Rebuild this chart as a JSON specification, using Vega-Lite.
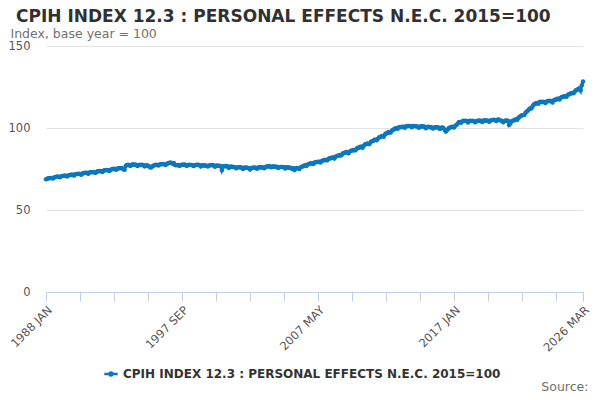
{
  "$schema": "https://vega.github.io/schema/vega-lite/v6.json",
  "width": 537,
  "height": 246,
  "autosize": {"type": "none"},
  "padding": {"left": 46, "top": 46, "right": 17, "bottom": 108},
  "title": {
    "text": "CPIH INDEX 12.3 : PERSONAL EFFECTS N.E.C. 2015=100",
    "anchor": "start",
    "frame": "group",
    "dx": -30,
    "dy": 1,
    "offset": 2,
    "font": "DejaVu Sans",
    "fontSize": 17,
    "fontWeight": "bold",
    "color": "#323132"
  },
  "data": {
    "values": [
      {"m":"1988 JAN","v":68.8},{"m":"1988 FEB","v":69.0},{"m":"1988 MAR","v":69.3},{"m":"1988 APR","v":69.3},{"m":"1988 MAY","v":69.5},{"m":"1988 JUN","v":69.5},{"m":"1988 JUL","v":69.2},{"m":"1988 AUG","v":69.8},{"m":"1988 SEP","v":70.2},{"m":"1988 OCT","v":70.3},{"m":"1988 NOV","v":70.5},{"m":"1988 DEC","v":70.2},
      {"m":"1989 JAN","v":69.9},{"m":"1989 FEB","v":70.6},{"m":"1989 MAR","v":70.8},{"m":"1989 APR","v":70.8},{"m":"1989 MAY","v":71.0},{"m":"1989 JUN","v":70.8},{"m":"1989 JUL","v":70.4},{"m":"1989 AUG","v":71.0},{"m":"1989 SEP","v":71.3},{"m":"1989 OCT","v":71.4},{"m":"1989 NOV","v":71.6},{"m":"1989 DEC","v":71.4},
      {"m":"1990 JAN","v":71.0},{"m":"1990 FEB","v":71.8},{"m":"1990 MAR","v":71.9},{"m":"1990 APR","v":71.9},{"m":"1990 MAY","v":72.1},{"m":"1990 JUN","v":72.0},{"m":"1990 JUL","v":71.5},{"m":"1990 AUG","v":72.1},{"m":"1990 SEP","v":72.5},{"m":"1990 OCT","v":72.5},{"m":"1990 NOV","v":72.7},{"m":"1990 DEC","v":72.5},
      {"m":"1991 JAN","v":72.1},{"m":"1991 FEB","v":72.9},{"m":"1991 MAR","v":73.0},{"m":"1991 APR","v":73.0},{"m":"1991 MAY","v":73.2},{"m":"1991 JUN","v":73.1},{"m":"1991 JUL","v":72.6},{"m":"1991 AUG","v":73.2},{"m":"1991 SEP","v":73.6},{"m":"1991 OCT","v":73.6},{"m":"1991 NOV","v":73.8},{"m":"1991 DEC","v":73.6},
      {"m":"1992 JAN","v":73.2},{"m":"1992 FEB","v":74.0},{"m":"1992 MAR","v":74.2},{"m":"1992 APR","v":74.2},{"m":"1992 MAY","v":74.4},{"m":"1992 JUN","v":74.2},{"m":"1992 JUL","v":73.8},{"m":"1992 AUG","v":74.4},{"m":"1992 SEP","v":74.9},{"m":"1992 OCT","v":75.0},{"m":"1992 NOV","v":75.2},{"m":"1992 DEC","v":74.9},
      {"m":"1993 JAN","v":74.5},{"m":"1993 FEB","v":75.3},{"m":"1993 MAR","v":75.5},{"m":"1993 APR","v":75.4},{"m":"1993 MAY","v":75.6},{"m":"1993 JUN","v":75.4},{"m":"1993 JUL","v":74.8},{"m":"1993 AUG","v":74.6},{"m":"1993 SEP","v":76.8},{"m":"1993 OCT","v":77.4},{"m":"1993 NOV","v":77.6},{"m":"1993 DEC","v":77.3},
      {"m":"1994 JAN","v":76.8},{"m":"1994 FEB","v":77.6},{"m":"1994 MAR","v":77.8},{"m":"1994 APR","v":77.6},{"m":"1994 MAY","v":77.7},{"m":"1994 JUN","v":77.4},{"m":"1994 JUL","v":76.8},{"m":"1994 AUG","v":77.3},{"m":"1994 SEP","v":77.6},{"m":"1994 OCT","v":77.5},{"m":"1994 NOV","v":77.6},{"m":"1994 DEC","v":77.3},
      {"m":"1995 JAN","v":76.6},{"m":"1995 FEB","v":77.2},{"m":"1995 MAR","v":77.3},{"m":"1995 APR","v":77.0},{"m":"1995 MAY","v":76.5},{"m":"1995 JUN","v":75.9},{"m":"1995 JUL","v":76.0},{"m":"1995 AUG","v":76.8},{"m":"1995 SEP","v":77.2},{"m":"1995 OCT","v":77.4},{"m":"1995 NOV","v":77.6},{"m":"1995 DEC","v":77.4},
      {"m":"1996 JAN","v":77.1},{"m":"1996 FEB","v":77.8},{"m":"1996 MAR","v":78.0},{"m":"1996 APR","v":77.9},{"m":"1996 MAY","v":78.1},{"m":"1996 JUN","v":77.9},{"m":"1996 JUL","v":77.5},{"m":"1996 AUG","v":78.1},{"m":"1996 SEP","v":78.5},{"m":"1996 OCT","v":78.6},{"m":"1996 NOV","v":78.9},{"m":"1996 DEC","v":78.6},
      {"m":"1997 JAN","v":78.2},{"m":"1997 FEB","v":78.7},{"m":"1997 MAR","v":77.4},{"m":"1997 APR","v":77.3},{"m":"1997 MAY","v":77.5},{"m":"1997 JUN","v":77.3},{"m":"1997 JUL","v":76.9},{"m":"1997 AUG","v":77.4},{"m":"1997 SEP","v":77.6},{"m":"1997 OCT","v":77.6},{"m":"1997 NOV","v":77.8},{"m":"1997 DEC","v":77.5},
      {"m":"1998 JAN","v":76.9},{"m":"1998 FEB","v":77.5},{"m":"1998 MAR","v":77.6},{"m":"1998 APR","v":77.4},{"m":"1998 MAY","v":77.5},{"m":"1998 JUN","v":77.3},{"m":"1998 JUL","v":76.8},{"m":"1998 AUG","v":77.3},{"m":"1998 SEP","v":77.6},{"m":"1998 OCT","v":77.5},{"m":"1998 NOV","v":77.6},{"m":"1998 DEC","v":77.3},
      {"m":"1999 JAN","v":76.5},{"m":"1999 FEB","v":77.2},{"m":"1999 MAR","v":77.3},{"m":"1999 APR","v":77.1},{"m":"1999 MAY","v":77.2},{"m":"1999 JUN","v":77.0},{"m":"1999 JUL","v":76.5},{"m":"1999 AUG","v":77.0},{"m":"1999 SEP","v":77.4},{"m":"1999 OCT","v":77.3},{"m":"1999 NOV","v":77.4},{"m":"1999 DEC","v":77.1},
      {"m":"2000 JAN","v":76.3},{"m":"2000 FEB","v":77.0},{"m":"2000 MAR","v":77.1},{"m":"2000 APR","v":76.9},{"m":"2000 MAY","v":77.0},{"m":"2000 JUN","v":76.7},{"m":"2000 JUL","v":74.3},{"m":"2000 AUG","v":76.5},{"m":"2000 SEP","v":76.8},{"m":"2000 OCT","v":76.6},{"m":"2000 NOV","v":76.8},{"m":"2000 DEC","v":76.5},
      {"m":"2001 JAN","v":75.6},{"m":"2001 FEB","v":76.4},{"m":"2001 MAR","v":76.5},{"m":"2001 APR","v":76.2},{"m":"2001 MAY","v":76.3},{"m":"2001 JUN","v":76.0},{"m":"2001 JUL","v":75.4},{"m":"2001 AUG","v":75.9},{"m":"2001 SEP","v":76.1},{"m":"2001 OCT","v":76.0},{"m":"2001 NOV","v":76.1},{"m":"2001 DEC","v":75.8},
      {"m":"2002 JAN","v":75.0},{"m":"2002 FEB","v":75.8},{"m":"2002 MAR","v":75.9},{"m":"2002 APR","v":75.7},{"m":"2002 MAY","v":75.8},{"m":"2002 JUN","v":75.5},{"m":"2002 JUL","v":74.7},{"m":"2002 AUG","v":75.4},{"m":"2002 SEP","v":75.8},{"m":"2002 OCT","v":75.8},{"m":"2002 NOV","v":75.9},{"m":"2002 DEC","v":75.6},
      {"m":"2003 JAN","v":75.1},{"m":"2003 FEB","v":75.9},{"m":"2003 MAR","v":76.0},{"m":"2003 APR","v":75.9},{"m":"2003 MAY","v":76.1},{"m":"2003 JUN","v":75.9},{"m":"2003 JUL","v":75.4},{"m":"2003 AUG","v":76.1},{"m":"2003 SEP","v":76.5},{"m":"2003 OCT","v":76.5},{"m":"2003 NOV","v":76.8},{"m":"2003 DEC","v":76.5},
      {"m":"2004 JAN","v":76.0},{"m":"2004 FEB","v":76.6},{"m":"2004 MAR","v":76.6},{"m":"2004 APR","v":76.4},{"m":"2004 MAY","v":76.5},{"m":"2004 JUN","v":76.2},{"m":"2004 JUL","v":75.6},{"m":"2004 AUG","v":76.1},{"m":"2004 SEP","v":76.3},{"m":"2004 OCT","v":76.2},{"m":"2004 NOV","v":76.3},{"m":"2004 DEC","v":76.0},
      {"m":"2005 JAN","v":75.3},{"m":"2005 FEB","v":76.0},{"m":"2005 MAR","v":76.0},{"m":"2005 APR","v":75.8},{"m":"2005 MAY","v":75.9},{"m":"2005 JUN","v":75.6},{"m":"2005 JUL","v":75.0},{"m":"2005 AUG","v":75.4},{"m":"2005 SEP","v":74.4},{"m":"2005 OCT","v":75.4},{"m":"2005 NOV","v":75.6},{"m":"2005 DEC","v":75.4},
      {"m":"2006 JAN","v":75.0},{"m":"2006 FEB","v":75.9},{"m":"2006 MAR","v":76.3},{"m":"2006 APR","v":76.6},{"m":"2006 MAY","v":77.0},{"m":"2006 JUN","v":77.3},{"m":"2006 JUL","v":76.8},{"m":"2006 AUG","v":77.6},{"m":"2006 SEP","v":78.0},{"m":"2006 OCT","v":78.2},{"m":"2006 NOV","v":78.5},{"m":"2006 DEC","v":78.3},
      {"m":"2007 JAN","v":78.0},{"m":"2007 FEB","v":78.9},{"m":"2007 MAR","v":79.1},{"m":"2007 APR","v":79.2},{"m":"2007 MAY","v":79.5},{"m":"2007 JUN","v":79.4},{"m":"2007 JUL","v":79.0},{"m":"2007 AUG","v":79.7},{"m":"2007 SEP","v":80.2},{"m":"2007 OCT","v":80.4},{"m":"2007 NOV","v":80.6},{"m":"2007 DEC","v":80.4},
      {"m":"2008 JAN","v":80.3},{"m":"2008 FEB","v":81.3},{"m":"2008 MAR","v":81.6},{"m":"2008 APR","v":81.6},{"m":"2008 MAY","v":82.0},{"m":"2008 JUN","v":82.0},{"m":"2008 JUL","v":81.4},{"m":"2008 AUG","v":82.4},{"m":"2008 SEP","v":82.9},{"m":"2008 OCT","v":83.0},{"m":"2008 NOV","v":83.5},{"m":"2008 DEC","v":83.2},
      {"m":"2009 JAN","v":83.4},{"m":"2009 FEB","v":84.5},{"m":"2009 MAR","v":84.8},{"m":"2009 APR","v":84.8},{"m":"2009 MAY","v":85.3},{"m":"2009 JUN","v":85.2},{"m":"2009 JUL","v":84.6},{"m":"2009 AUG","v":85.6},{"m":"2009 SEP","v":86.1},{"m":"2009 OCT","v":86.2},{"m":"2009 NOV","v":86.6},{"m":"2009 DEC","v":86.4},
      {"m":"2010 JAN","v":86.4},{"m":"2010 FEB","v":87.5},{"m":"2010 MAR","v":87.9},{"m":"2010 APR","v":88.0},{"m":"2010 MAY","v":88.6},{"m":"2010 JUN","v":88.6},{"m":"2010 JUL","v":88.0},{"m":"2010 AUG","v":89.2},{"m":"2010 SEP","v":89.9},{"m":"2010 OCT","v":90.2},{"m":"2010 NOV","v":90.6},{"m":"2010 DEC","v":90.3},
      {"m":"2011 JAN","v":90.2},{"m":"2011 FEB","v":91.4},{"m":"2011 MAR","v":92.0},{"m":"2011 APR","v":92.1},{"m":"2011 MAY","v":92.8},{"m":"2011 JUN","v":92.9},{"m":"2011 JUL","v":92.5},{"m":"2011 AUG","v":93.4},{"m":"2011 SEP","v":94.2},{"m":"2011 OCT","v":94.5},{"m":"2011 NOV","v":95.0},{"m":"2011 DEC","v":94.9},
      {"m":"2012 JAN","v":94.6},{"m":"2012 FEB","v":96.0},{"m":"2012 MAR","v":96.6},{"m":"2012 APR","v":96.8},{"m":"2012 MAY","v":97.5},{"m":"2012 JUN","v":97.3},{"m":"2012 JUL","v":97.2},{"m":"2012 AUG","v":98.3},{"m":"2012 SEP","v":98.9},{"m":"2012 OCT","v":99.3},{"m":"2012 NOV","v":99.8},{"m":"2012 DEC","v":99.7},
      {"m":"2013 JAN","v":99.6},{"m":"2013 FEB","v":100.4},{"m":"2013 MAR","v":100.6},{"m":"2013 APR","v":100.5},{"m":"2013 MAY","v":100.8},{"m":"2013 JUN","v":100.7},{"m":"2013 JUL","v":100.2},{"m":"2013 AUG","v":100.9},{"m":"2013 SEP","v":101.2},{"m":"2013 OCT","v":101.2},{"m":"2013 NOV","v":101.3},{"m":"2013 DEC","v":101.0},
      {"m":"2014 JAN","v":100.4},{"m":"2014 FEB","v":101.2},{"m":"2014 MAR","v":101.3},{"m":"2014 APR","v":101.0},{"m":"2014 MAY","v":101.1},{"m":"2014 JUN","v":100.8},{"m":"2014 JUL","v":100.2},{"m":"2014 AUG","v":100.7},{"m":"2014 SEP","v":101.0},{"m":"2014 OCT","v":100.9},{"m":"2014 NOV","v":101.0},{"m":"2014 DEC","v":100.6},
      {"m":"2015 JAN","v":99.9},{"m":"2015 FEB","v":100.6},{"m":"2015 MAR","v":100.8},{"m":"2015 APR","v":100.5},{"m":"2015 MAY","v":100.6},{"m":"2015 JUN","v":100.3},{"m":"2015 JUL","v":99.7},{"m":"2015 AUG","v":100.2},{"m":"2015 SEP","v":100.5},{"m":"2015 OCT","v":100.4},{"m":"2015 NOV","v":100.5},{"m":"2015 DEC","v":100.1},
      {"m":"2016 JAN","v":99.4},{"m":"2016 FEB","v":100.2},{"m":"2016 MAR","v":100.3},{"m":"2016 APR","v":100.0},{"m":"2016 MAY","v":98.8},{"m":"2016 JUN","v":97.8},{"m":"2016 JUL","v":98.6},{"m":"2016 AUG","v":99.6},{"m":"2016 SEP","v":100.1},{"m":"2016 OCT","v":100.3},{"m":"2016 NOV","v":100.8},{"m":"2016 DEC","v":100.6},
      {"m":"2017 JAN","v":100.3},{"m":"2017 FEB","v":101.3},{"m":"2017 MAR","v":101.8},{"m":"2017 APR","v":102.6},{"m":"2017 MAY","v":103.5},{"m":"2017 JUN","v":103.6},{"m":"2017 JUL","v":103.2},{"m":"2017 AUG","v":104.0},{"m":"2017 SEP","v":104.4},{"m":"2017 OCT","v":104.3},{"m":"2017 NOV","v":104.5},{"m":"2017 DEC","v":104.2},
      {"m":"2018 JAN","v":103.4},{"m":"2018 FEB","v":104.3},{"m":"2018 MAR","v":104.5},{"m":"2018 APR","v":104.2},{"m":"2018 MAY","v":104.4},{"m":"2018 JUN","v":104.1},{"m":"2018 JUL","v":103.5},{"m":"2018 AUG","v":104.1},{"m":"2018 SEP","v":104.5},{"m":"2018 OCT","v":104.4},{"m":"2018 NOV","v":104.6},{"m":"2018 DEC","v":104.3},
      {"m":"2019 JAN","v":103.6},{"m":"2019 FEB","v":104.5},{"m":"2019 MAR","v":104.7},{"m":"2019 APR","v":104.4},{"m":"2019 MAY","v":104.6},{"m":"2019 JUN","v":104.4},{"m":"2019 JUL","v":103.8},{"m":"2019 AUG","v":104.5},{"m":"2019 SEP","v":104.9},{"m":"2019 OCT","v":104.8},{"m":"2019 NOV","v":105.1},{"m":"2019 DEC","v":104.8},
      {"m":"2020 JAN","v":104.2},{"m":"2020 FEB","v":105.1},{"m":"2020 MAR","v":105.2},{"m":"2020 APR","v":104.8},{"m":"2020 MAY","v":104.6},{"m":"2020 JUN","v":104.2},{"m":"2020 JUL","v":103.5},{"m":"2020 AUG","v":104.3},{"m":"2020 SEP","v":104.6},{"m":"2020 OCT","v":104.4},{"m":"2020 NOV","v":104.5},{"m":"2020 DEC","v":101.9},
      {"m":"2021 JAN","v":102.8},{"m":"2021 FEB","v":104.0},{"m":"2021 MAR","v":104.5},{"m":"2021 APR","v":104.6},{"m":"2021 MAY","v":105.0},{"m":"2021 JUN","v":105.3},{"m":"2021 JUL","v":105.0},{"m":"2021 AUG","v":106.2},{"m":"2021 SEP","v":106.8},{"m":"2021 OCT","v":107.3},{"m":"2021 NOV","v":107.8},{"m":"2021 DEC","v":108.0},
      {"m":"2022 JAN","v":108.0},{"m":"2022 FEB","v":109.3},{"m":"2022 MAR","v":110.0},{"m":"2022 APR","v":110.6},{"m":"2022 MAY","v":111.5},{"m":"2022 JUN","v":112.0},{"m":"2022 JUL","v":111.9},{"m":"2022 AUG","v":113.3},{"m":"2022 SEP","v":114.3},{"m":"2022 OCT","v":114.6},{"m":"2022 NOV","v":115.2},{"m":"2022 DEC","v":115.1},
      {"m":"2023 JAN","v":114.8},{"m":"2023 FEB","v":115.8},{"m":"2023 MAR","v":116.0},{"m":"2023 APR","v":115.7},{"m":"2023 MAY","v":116.0},{"m":"2023 JUN","v":115.8},{"m":"2023 JUL","v":115.2},{"m":"2023 AUG","v":116.0},{"m":"2023 SEP","v":116.5},{"m":"2023 OCT","v":116.4},{"m":"2023 NOV","v":116.6},{"m":"2023 DEC","v":116.2},
      {"m":"2024 JAN","v":115.6},{"m":"2024 FEB","v":116.8},{"m":"2024 MAR","v":117.2},{"m":"2024 APR","v":117.2},{"m":"2024 MAY","v":117.8},{"m":"2024 JUN","v":117.8},{"m":"2024 JUL","v":117.4},{"m":"2024 AUG","v":118.4},{"m":"2024 SEP","v":118.9},{"m":"2024 OCT","v":119.1},{"m":"2024 NOV","v":119.4},{"m":"2024 DEC","v":119.2},
      {"m":"2025 JAN","v":119.0},{"m":"2025 FEB","v":120.2},{"m":"2025 MAR","v":120.6},{"m":"2025 APR","v":120.7},{"m":"2025 MAY","v":121.3},{"m":"2025 JUN","v":121.4},{"m":"2025 JUL","v":121.2},{"m":"2025 AUG","v":122.3},{"m":"2025 SEP","v":123.0},{"m":"2025 OCT","v":123.3},{"m":"2025 NOV","v":123.8},{"m":"2025 DEC","v":124.3},
      {"m":"2026 JAN","v":122.8},{"m":"2026 FEB","v":126.0},{"m":"2026 MAR","v":128.3}
    ]
  },
  "mark": {
    "type": "line",
    "strokeWidth": 3,
    "point": {"filled": true, "size": 20}
  },
  "encoding": {
    "x": {
      "field": "m",
      "type": "ordinal",
      "sort": null,
      "scale": {"type": "point", "padding": 0},
      "axis": {
        "values": ["1988 JAN","1990 JUN","1992 NOV","1995 APR","1997 SEP","2000 FEB","2002 JUL","2004 DEC","2007 MAY","2009 OCT","2012 MAR","2014 AUG","2017 JAN","2019 JUN","2021 NOV","2024 APR","2026 MAR"],
        "labelExpr": "(datum.value == '1988 JAN' || datum.value == '1997 SEP' || datum.value == '2007 MAY' || datum.value == '2017 JAN' || datum.value == '2026 MAR') ? datum.value : ''",
        "labelAngle": -45,
        "labelAlign": "right",
        "labelBaseline": "top",
        "labelPadding": 3,
        "labelFont": "DejaVu Sans",
        "labelFontSize": 11.5,
        "labelColor": "#555555",
        "domainColor": "#c0d0e6",
        "tickColor": "#c0d0e6",
        "tickSize": 9,
        "grid": false,
        "title": "Source:",
        "titleFont": "DejaVu Sans",
        "titleFontSize": 12.5,
        "titleFontWeight": "normal",
        "titleColor": "#707070",
        "titleAlign": "right",
        "titleBaseline": "alphabetic",
        "titleX": 542,
        "titleY": 98
      }
    },
    "y": {
      "field": "v",
      "type": "quantitative",
      "scale": {"domain": [0, 150], "nice": false},
      "axis": {
        "values": [0, 50, 100, 150],
        "domain": false,
        "ticks": false,
        "grid": true,
        "gridColor": "#e2e2e2",
        "labelPadding": 16,
        "labelFont": "DejaVu Sans",
        "labelFontSize": 11.5,
        "labelColor": "#555555",
        "title": "Index, base year = 100",
        "titleAngle": 0,
        "titleAlign": "left",
        "titleBaseline": "alphabetic",
        "titleX": -36,
        "titleY": -9,
        "titleFont": "DejaVu Sans",
        "titleFontSize": 12.5,
        "titleFontWeight": "normal",
        "titleColor": "#707070"
      }
    },
    "color": {
      "datum": "CPIH INDEX 12.3 : PERSONAL EFFECTS N.E.C. 2015=100",
      "type": "nominal",
      "scale": {"range": ["#0a78be"]},
      "legend": {
        "title": null,
        "orient": "none",
        "legendX": 57,
        "legendY": 320,
        "symbolType": "M-1,0H1M-0.22,0A0.22,0.22,0,1,0,0.22,0A0.22,0.22,0,1,0,-0.22,0",
        "symbolSize": 180,
        "symbolStrokeWidth": 2.5,
        "symbolFillColor": "#0a78be",
        "labelFont": "DejaVu Sans",
        "labelFontSize": 12,
        "labelFontWeight": "bold",
        "labelColor": "#333333",
        "labelLimit": 500
      }
    }
  },
  "config": {
    "view": {"stroke": null},
    "font": "DejaVu Sans"
  }
}
